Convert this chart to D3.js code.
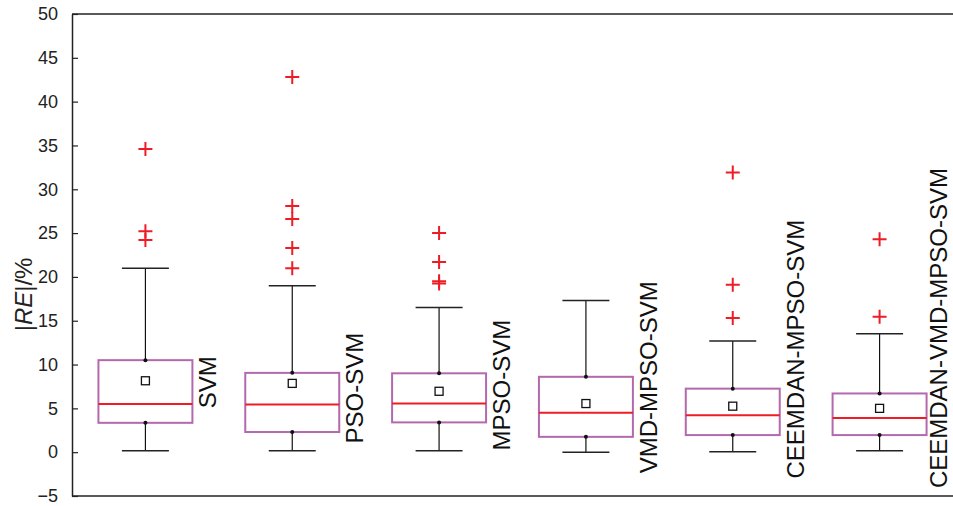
<!DOCTYPE html>
<html>
<head>
<meta charset="utf-8">
<script src="https://cdn.jsdelivr.net/npm/d3@7"></script>
<style>
  body { margin: 0; background: #fff; }
  svg { display: block; font-family: "Liberation Sans", Arial, sans-serif; }
</style>
</head>
<body>
<div id="chart"></div>
<script>
// models on the x axis
const models = ['SVM', 'PSO-SVM', 'MPSO-SVM', 'VMD-MPSO-SVM', 'CEEMDAN-MPSO-SVM', 'CEEMDAN-VMD-MPSO-SVM'];

// box statistics of |RE| (%)
const lowerWhisker = [0.15, 0.15, 0.15, 0.0, 0.05, 0.15];
const q1 = [3.35, 2.3, 3.4, 1.75, 1.95, 1.95];
const median = [5.5, 5.45, 5.55, 4.5, 4.2, 3.9];
const q3 = [10.5, 9.05, 9.0, 8.6, 7.25, 6.7];
const upperWhisker = [21.0, 19.0, 16.5, 17.3, 12.7, 13.5];
const mean = [8.15, 7.85, 6.95, 5.55, 5.25, 5.0];
const outliers = [
  [34.6, 25.2, 24.2],
  [42.8, 28.1, 26.6, 23.3, 21.0],
  [25.0, 21.7, 19.5, 19.25],
  [],
  [31.9, 19.1, 15.3],
  [24.3, 15.45]
];

const yTicks = d3.range(-5, 51, 5);

// where each rotated label starts (in axis units)
const labelStart = [5.0, 1.0, 0.2, -2.4, -3.0, -4.1];

const width = 953, height = 506;
const margin = { top: 14, right: 0, bottom: 10, left: 72 };

const svg = d3.select('#chart').append('svg')
  .attr('width', width)
  .attr('height', height);

const x = d3.scaleBand()
  .domain(models)
  .range([margin.left, width - margin.right])
  .padding(0);

const y = d3.scaleLinear()
  .domain([-5, 50])
  .range([height - margin.bottom, margin.top]);

const boxW = x.bandwidth() * 0.64;
const capW = boxW / 2;
const purple = '#b468ad';
const red = '#ee1c25';

// frame
svg.append('line')
  .attr('x1', margin.left).attr('x2', width)
  .attr('y1', y(50)).attr('y2', y(50))
  .attr('stroke', '#222').attr('stroke-width', 1.5);
svg.append('line')
  .attr('x1', margin.left).attr('x2', width)
  .attr('y1', y(-5)).attr('y2', y(-5))
  .attr('stroke', '#222').attr('stroke-width', 1.5);

// y axis, ticks pointing inside
const yAxis = svg.append('g')
  .attr('transform', `translate(${margin.left},0)`)
  .call(d3.axisLeft(y).tickValues(yTicks).tickSizeInner(-6).tickSizeOuter(0).tickPadding(14));
yAxis.select('.domain').attr('stroke', '#222').attr('stroke-width', 1.5);
yAxis.selectAll('.tick line').attr('stroke', '#222').attr('stroke-width', 1.2);
yAxis.selectAll('.tick text')
  .attr('font-size', 18)
  .attr('fill', '#222')
  .attr('font-family', '"Liberation Sans", Arial, sans-serif');

// y title
const title = svg.append('text')
  .attr('transform', `translate(32,${y(18)}) rotate(-90)`)
  .attr('text-anchor', 'middle')
  .attr('font-size', 24)
  .attr('fill', '#222');
title.append('tspan').text('|');
title.append('tspan').attr('font-style', 'italic').text('RE');
title.append('tspan').text('|/%');

// boxes
const g = svg.append('g');
models.forEach((m, i) => {
  const cx = x(m) + x.bandwidth() / 2;
  const grp = g.append('g');

  // whiskers
  grp.append('line')
    .attr('x1', cx).attr('x2', cx)
    .attr('y1', y(q3[i])).attr('y2', y(upperWhisker[i]))
    .attr('stroke', '#111').attr('stroke-width', 1.2);
  grp.append('line')
    .attr('x1', cx).attr('x2', cx)
    .attr('y1', y(q1[i])).attr('y2', y(lowerWhisker[i]))
    .attr('stroke', '#111').attr('stroke-width', 1.2);
  [upperWhisker[i], lowerWhisker[i]].forEach(v => {
    grp.append('line')
      .attr('x1', cx - capW / 2).attr('x2', cx + capW / 2)
      .attr('y1', y(v)).attr('y2', y(v))
      .attr('stroke', '#222').attr('stroke-width', 1.5);
  });

  // box
  grp.append('rect')
    .attr('x', cx - boxW / 2)
    .attr('y', y(q3[i]))
    .attr('width', boxW)
    .attr('height', y(q1[i]) - y(q3[i]))
    .attr('fill', 'none')
    .attr('stroke', purple)
    .attr('stroke-width', 2);

  // small dots where whiskers meet the box
  [q3[i], q1[i]].forEach(v => {
    grp.append('circle')
      .attr('cx', cx).attr('cy', y(v)).attr('r', 2)
      .attr('fill', '#111');
  });

  // median
  grp.append('line')
    .attr('x1', cx - boxW / 2).attr('x2', cx + boxW / 2)
    .attr('y1', y(median[i])).attr('y2', y(median[i]))
    .attr('stroke', red).attr('stroke-width', 2);

  // mean
  grp.append('rect')
    .attr('x', cx - 4).attr('y', y(mean[i]) - 4)
    .attr('width', 8).attr('height', 8)
    .attr('fill', '#fff')
    .attr('stroke', '#111')
    .attr('stroke-width', 1.3);

  // outliers
  grp.selectAll('path.out')
    .data(outliers[i])
    .join('path')
    .attr('class', 'out')
    .attr('d', d => `M${cx - 7},${y(d)}H${cx + 7}M${cx},${y(d) - 7}V${y(d) + 7}`)
    .attr('stroke', red)
    .attr('stroke-width', 2);

  // rotated label (kept inside the right edge)
  const lx = Math.min(cx + boxW / 2 + 24, width - 6);
  svg.append('text')
    .attr('transform', `translate(${lx},${y(labelStart[i])}) rotate(-90)`)
    .attr('text-anchor', 'start')
    .attr('font-size', 24)
    .attr('fill', '#111')
    .text(m);
});
</script>
</body>
</html>
